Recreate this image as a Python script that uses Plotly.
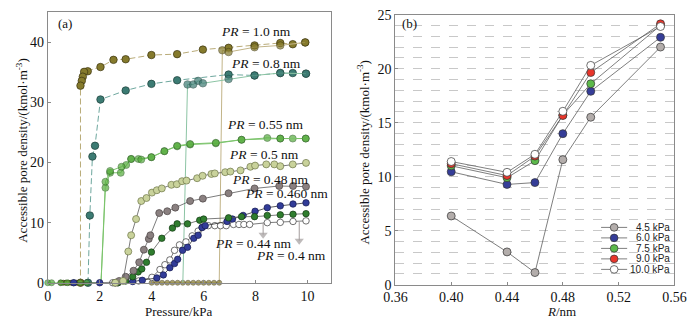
import plotly.graph_objects as go

# ---------------- Panel (a) data: pressure (kPa) vs accessible pore density ----------------
pr10_des_p = [9.91, 9.43, 8.95, 7.96, 6.96, 5.97, 4.98, 3.99, 3.0, 2.53, 2.03, 1.54, 1.40, 1.35, 1.31, 1.26, 1.26]
pr10_des_d = [40.0, 39.7, 39.9, 39.5, 39.1, 38.8, 38.05, 37.9, 37.2, 37.1, 35.9, 35.2, 35.1, 34.3, 33.6, 32.8, 0.0]
pr10_low_p = [0.5, 0.6, 0.7, 0.8, 0.9, 1.0, 1.1, 1.2]
pr10_low_d = [0, 0, 0, 0, 0, 0, 0, 0]
pr10_ads_p = [4.0, 4.2, 4.4, 4.6, 4.8, 5.0, 5.2, 5.4, 5.6, 5.8, 6.0, 6.2, 6.4, 6.6, 6.72, 6.96, 7.96, 8.95, 9.91]
pr10_ads_d = [0, 0, 0, 0, 0, 0, 0, 0, 0, 0, 0, 0, 0, 0, 38.7, 38.4, 39.2, 39.5, 40.0]

pr08_des_p = [9.94, 9.43, 8.95, 7.96, 6.96, 4.98, 3.99, 3.0, 2.03, 1.82, 1.72, 1.62, 1.55]
pr08_des_d = [34.8, 34.9, 34.9, 34.5, 34.65, 33.7, 33.1, 32.0, 30.5, 22.8, 21.0, 11.2, 0.0]
pr08_ads_p = [5.2, 5.38, 5.6, 5.79, 5.97, 6.96, 7.96, 8.95, 9.94]
pr08_ads_d = [0.0, 33.0, 33.0, 33.6, 33.2, 33.9, 34.5, 34.9, 34.8]

pr055_ads_p = [0.0, 0.15, 0.5, 0.75, 1.0, 1.25, 1.5, 2.05, 2.22, 2.4, 2.81, 3.02, 3.21, 3.49, 3.99, 4.49, 4.98, 5.48, 6.47, 7.46, 8.45, 8.95, 9.43, 9.93]
pr055_ads_d = [0, 0, 0, 0, 0, 0, 0, 0, 15.8, 18.3, 18.3, 19.6, 20.6, 20.6, 20.9, 21.9, 22.7, 23.0, 23.2, 23.8, 24.1, 24.0, 24.0, 24.0]
pr055_des_p = [9.93, 8.95, 7.46, 6.47, 5.48, 4.98, 4.49, 3.99, 3.6, 3.21, 2.84, 2.4, 2.22, 2.05]
pr055_des_d = [24.0, 24.0, 23.8, 23.3, 23.1, 22.8, 21.9, 20.9, 20.5, 20.6, 19.3, 18.6, 16.8, 0.0]

pr05_p = [2.6, 2.9, 3.1, 3.21, 3.4, 3.6, 3.8, 4.01, 4.2, 4.39, 4.76, 4.97, 5.17, 5.34, 5.75, 5.96, 6.3, 6.43, 6.83, 7.03, 7.42, 7.8, 7.98, 8.41, 8.72, 8.95, 9.43, 9.94]
pr05_d = [0, 0.3, 5.2, 7.9, 10.6, 13.6, 14.1, 15.0, 15.4, 15.7, 16.3, 16.4, 16.9, 17.0, 17.4, 17.8, 18.1, 18.2, 18.4, 18.5, 18.7, 19.3, 19.5, 19.7, 19.7, 19.4, 19.7, 19.95]

pr048_p = [2.6, 2.75, 3.0, 3.3, 3.52, 3.7, 3.89, 3.95, 4.29, 4.6, 4.91, 5.48, 5.97, 6.96, 7.96, 8.91, 9.44, 9.94]
pr048_d = [0, 0.3, 1.0, 2.0, 3.4, 5.5, 7.3, 7.9, 11.6, 11.9, 12.5, 13.6, 14.0, 14.9, 15.7, 16.1, 16.1, 16.0]

pr046_p = [1.0, 2.0, 3.27, 3.64, 4.2, 4.45, 4.7, 4.88, 5.0, 5.19, 5.38, 5.62, 5.79, 5.94, 6.06, 6.9, 7.11, 7.52, 7.98, 8.45, 8.95, 9.44, 9.94]
pr046_d = [0, 0, 0.2, 0.4, 0.8, 1.3, 2.5, 3.2, 3.9, 5.4, 5.9, 7.4, 7.9, 9.2, 9.5, 10.2, 10.6, 11.2, 11.9, 12.5, 12.8, 13.1, 13.3]

pr044_p = [2.7, 3.0, 3.27, 3.48, 3.62, 3.8, 3.99, 4.39, 4.8, 4.98, 5.38, 5.85, 6.0, 6.96, 7.46, 7.96, 8.45, 8.95, 9.44, 9.94]
pr044_d = [0, 0.3, 1.0, 1.8, 2.3, 3.4, 5.1, 7.4, 9.1, 9.8, 9.8, 10.4, 10.6, 10.8, 11.0, 11.0, 11.2, 11.3, 11.4, 11.5]

pr04_p = [2.5, 2.7, 3.5, 4.01, 4.32, 4.51, 4.7, 4.88, 5.07, 5.32, 5.56, 5.79, 5.94, 6.18, 6.43, 6.65, 6.87, 7.15, 7.36, 7.55, 7.77, 8.45, 8.95, 9.44, 9.94]
pr04_d = [0, 0, 0.3, 0.9, 2.2, 3.0, 3.8, 5.4, 6.3, 6.8, 7.8, 8.6, 9.2, 9.5, 9.5, 9.5, 9.5, 9.7, 9.7, 9.7, 9.7, 10.0, 10.05, 10.2, 10.3]

# arrows marking the PR = 0.44 / 0.4 nm curves (pressure, density from -> to)
arrow_p = [8.29, 9.68]
arrow_from = [9.9, 10.1]
arrow_to = [8.0, 7.0]

pr_labels = ["1.0", "0.8", "0.55", "0.5", "0.48", "0.460", "0.44", "0.4"]

# ---------------- Panel (b) data: pore radius vs density at fixed pressure ----------------
radius = [0.40, 0.44, 0.46, 0.48, 0.50, 0.55]
dens_45 = [6.36, 3.03, 1.12, 11.57, 15.5, 22.0]
dens_60 = [10.45, 9.28, 9.45, 13.98, 17.9, 22.9]
dens_75 = [11.0, 9.9, 11.48, 15.7, 18.6, 24.0]
dens_90 = [11.2, 10.1, 11.9, 15.66, 19.64, 24.15]
dens_100 = [11.4, 10.4, 12.07, 16.05, 20.3, 23.9]
press_labels = ["4.5 kPa", "6.0 kPa", "7.5 kPa", "9.0 kPa", "10.0 kPa"]

SERIF = "Liberation Serif, Times New Roman, serif"
SANS = "Liberation Sans, Arial, sans-serif"

fig = go.Figure()


def add_a(px, py, fill, edge, lcolor, dash="solid", size=7, lw=1.0, sizes=None):
    fig.add_trace(go.Scatter(
        x=px, y=py, mode="lines+markers", xaxis="x", yaxis="y",
        line=dict(color=lcolor, width=lw, dash=dash),
        marker=dict(size=sizes if sizes is not None else size, color=fill,
                    line=dict(color=edge, width=0.7)),
        cliponaxis=False, showlegend=False, hoverinfo="skip"))


OLIVE, OLIVE_E = "#857a2c", "#3b3410"
TEAL, TEAL_E = "#3c7b73", "#1d3f3a"
GREEN, GREEN_E = "#55ac3c", "#22561a"
KHAKI, KHAKI_E = "#c9d29b", "#6d7548"
TAUPE, TAUPE_E = "#8a8080", "#4a4343"
BLUE, BLUE_E = "#323c98", "#151a50"
DGREEN, DGREEN_E = "#2f7d2e", "#123812"
GREYLINE = "#5a5a5a"

# PR = 1.0 nm
add_a(pr10_low_p, pr10_low_d, OLIVE, OLIVE_E, "#b9ab78", size=5)
add_a(pr10_des_p, pr10_des_d, OLIVE, OLIVE_E, "#b9ab78", dash="6px,3px", size=7.5)
ads_sizes = [5] * 14 + [7.5] * 5
add_a(pr10_ads_p, pr10_ads_d, OLIVE, OLIVE_E, "#c2b488", sizes=ads_sizes)
# PR = 0.8 nm
add_a(pr08_des_p, pr08_des_d, TEAL, TEAL_E, "#6ea79e", dash="6px,3px", size=7.5)
add_a(pr08_ads_p, pr08_ads_d, TEAL, TEAL_E, "#8cc4a4", sizes=[0] + [7.5] * 8)
# PR = 0.55 nm
add_a(pr055_ads_p, pr055_ads_d, GREEN, GREEN_E, "#7cc46c", sizes=[6] * 7 + [0] + [7] * 16)
add_a(pr055_des_p, pr055_des_d, GREEN, GREEN_E, "#7cc46c", sizes=[7] * 13 + [0])
# lower curves
add_a(pr04_p, pr04_d, "white", "#333333", GREYLINE, size=6.5, lw=0.8)
add_a(pr046_p, pr046_d, BLUE, BLUE_E, "#333333", size=6.5, lw=0.8)
add_a(pr044_p, pr044_d, DGREEN, DGREEN_E, GREYLINE, size=6.5, lw=0.8)
add_a(pr048_p, pr048_d, TAUPE, TAUPE_E, GREYLINE, size=7, lw=0.8)
add_a(pr05_p, pr05_d, KHAKI, KHAKI_E, GREYLINE, size=7, lw=0.8)

# grey arrows
for ap, a0, a1 in zip(arrow_p, arrow_from, arrow_to):
    fig.add_trace(go.Scatter(
        x=[ap, ap], y=[a0, a1], mode="lines+markers", xaxis="x", yaxis="y",
        line=dict(color="#a39c9c", width=1),
        marker=dict(symbol="triangle-down", size=[0, 8], color="#a39c9c", line=dict(width=0)),
        cliponaxis=False, showlegend=False, hoverinfo="skip"))

# ---------------- Panel (b) traces ----------------
b_series = [dens_45, dens_60, dens_75, dens_90, dens_100]
b_fill = ["#b3adab", "#353d98", "#5cb94a", "#e8352b", "#ffffff"]
for vals, col in zip(b_series, b_fill):
    fig.add_trace(go.Scatter(
        x=radius, y=vals, mode="lines+markers", xaxis="x2", yaxis="y2",
        line=dict(color="#5e5e5e", width=0.8),
        marker=dict(size=8, color=col, line=dict(color="#333333", width=0.7)),
        cliponaxis=False, showlegend=False, hoverinfo="skip"))

# ---------------- annotations ----------------
ann = []
lab_pos = [(8.03, 41.9), (8.4, 36.5), (8.38, 26.3), (8.32, 21.3), (8.57, 17.2), (9.19, 14.9), (7.92, 6.6), (9.37, 4.6)]
for lab, (lx, ly) in zip(pr_labels, lab_pos):
    ann.append(dict(x=lx, y=ly, xref="x", yref="y", text=f"<i>PR</i> = {lab} nm", showarrow=False,
                    font=dict(family=SERIF, size=13.5, color="#111")))


def px2paper(px, py):
    return px / 700.0, 1 - py / 327.0


for txt, (px, py), ang in [
    ("(a)", (55, 17), 0), ("(b)", (412, 17), 0),
    ("Pressure/kPa", (172, 319), 0), ("<i>R</i>/nm", (569, 319), 0),
    ("Accessible pore density/(kmol·m<sup>-3</sup>)", (10, 150), -90),
    ("Accessible pore density/(kmol·m<sup>-3</sup>)", (364, 152), -90)]:
    xx, yy = px2paper(px, py)
    ann.append(dict(x=xx, y=yy, xref="paper", yref="paper", text=txt, showarrow=False, textangle=ang,
                    xanchor="center", yanchor="middle", font=dict(family=SERIF, size=13, color="#111")))

# manual legend for panel (b)
shapes = []
rows = [231, 242, 253, 264, 275]
for lab, col, ry in zip(press_labels, b_fill, rows):
    x0, y0 = px2paper(610, ry)
    x1, _ = px2paper(637, ry)
    shapes.append(dict(type="line", xref="paper", yref="paper", x0=x0, x1=x1, y0=y0, y1=y0,
                       line=dict(color="#5e5e5e", width=0.8)))
    cx0, cy0 = px2paper(619.5, ry + 4)
    cx1, cy1 = px2paper(627.5, ry - 4)
    shapes.append(dict(type="circle", xref="paper", yref="paper", x0=cx0, x1=cx1, y0=cy0, y1=cy1,
                       fillcolor=col, line=dict(color="#333333", width=0.7)))
    tx, ty = px2paper(683, ry)
    ann.append(dict(x=tx, y=ty, xref="paper", yref="paper", text=lab, showarrow=False,
                    xanchor="right", yanchor="middle", font=dict(family=SANS, size=10, color="#222")))

axis_common = dict(showline=True, mirror=True, linecolor="#8a8a8a", linewidth=1, ticks="inside",
                   ticklen=3, tickcolor="#8a8a8a", zeroline=False,
                   tickfont=dict(family=SERIF, size=14, color="#111"))

fig.update_layout(
    width=700, height=327, margin=dict(l=0, r=0, t=0, b=0),
    paper_bgcolor="white", plot_bgcolor="white",
    xaxis=dict(domain=[37 / 700, 330 / 700], range=[0, 10.89], tickvals=[0, 2, 4, 6, 8, 10],
               showgrid=False, anchor="y", **axis_common),
    yaxis=dict(domain=[1 - 289 / 327, 1 - 5 / 327], range=[0, 45.1], tickvals=[0, 10, 20, 30, 40],
               showgrid=False, anchor="x", **axis_common),
    xaxis2=dict(domain=[397 / 700, 686 / 700], range=[0.36, 0.56],
                tickvals=[0.36, 0.40, 0.44, 0.48, 0.52, 0.56], tickformat=".2f",
                showgrid=False, anchor="y2", **axis_common),
    yaxis2=dict(domain=[1 - 291 / 327, 1 - 8 / 327], range=[0, 25], tickvals=[0, 5, 10, 15, 20, 25],
                showgrid=True, gridcolor="#c8c8c8", griddash="dash", gridwidth=1,
                minor=dict(dtick=1, showgrid=True, gridcolor="#c8c8c8", griddash="dash", gridwidth=1),
                anchor="x2", **axis_common),
    annotations=ann, shapes=shapes,
)

fig.write_html("out.html")
